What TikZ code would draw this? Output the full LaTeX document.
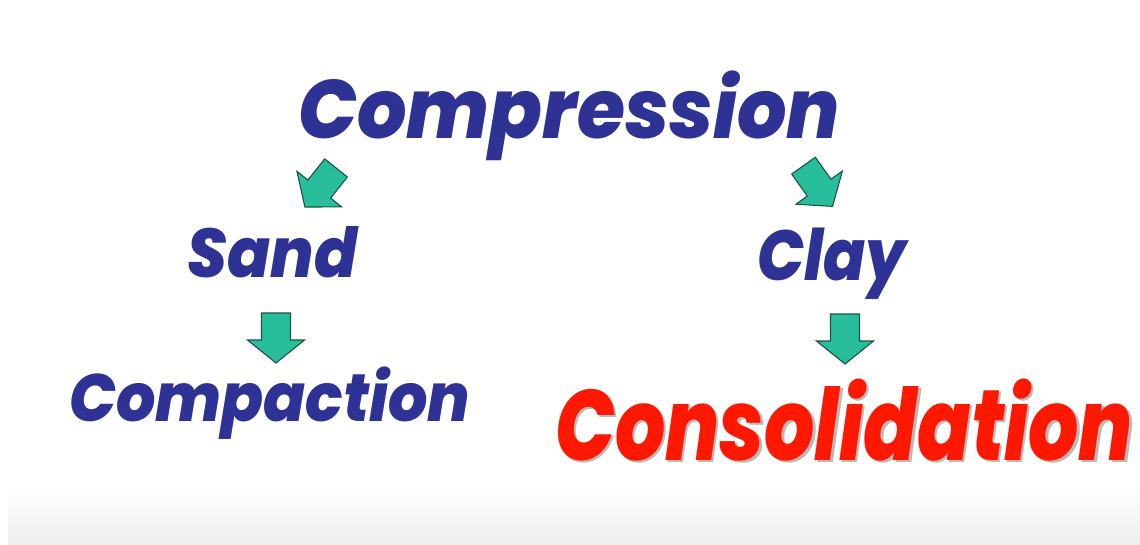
\documentclass[tikz,border=0pt]{standalone}
\usepackage{fontspec}
\setmainfont{Poppins}
\newfontfamily\headfont{Poppins}[BoldItalicFont={Poppins ExtraBold Italic}]
\usetikzlibrary{shadings}
\definecolor{wordblue}{RGB}{46,50,148}
\definecolor{wordred}{RGB}{255,24,0}
\definecolor{shadowgray}{RGB}{185,185,185}
\definecolor{arrowfill}{RGB}{40,190,155}
\definecolor{arrowline}{RGB}{28,84,66}
\definecolor{bandgray}{RGB}{238,238,238}
% squeeze a word horizontally to a given width (in pt)
\newlength\wordwidth
\newcommand\fitword[2]{\settowidth\wordwidth{#2}\pgfmathsetmacro\wordratio{#1/\wordwidth}\scalebox{\wordratio}[1]{#2}}
% the same word with a soft grey copy set just below and to the right
\newcommand\shadowword[2]{\makebox[0pt][l]{\hspace{2.5pt}\raisebox{-2.5pt}{\color{shadowgray}\fitword{#1}{#2}}}\fitword{#1}{#2}}
\tikzset{
  word/.style={inner sep=0pt, anchor=base west},
  wordsize/.style={font=\headfont\bfseries\itshape\fontsize{#1}{#1}\selectfont},
  blockarrow/.style={fill=arrowfill, draw=arrowline, line width=1.1pt, line join=miter},
  pics/fatarrow/.style={code={
    \path[blockarrow] (-14.5,-25) -- (14.5,-25) -- (14.5,2) -- (28.5,2)
      -- (0,25) -- (-28.5,2) -- (-14.5,2) -- cycle;
  }}
}
\begin{document}
\begin{tikzpicture}[x=1pt,y=-1pt]
  \useasboundingbox (0,0) rectangle (1140,544);
  \fill[white] (0,0) rectangle (1140,544);
  % soft grey band along the bottom edge
  \shade[top color=white, bottom color=bandgray] (8,488) rectangle (1140,544);

  % words
  \node[word, text=wordblue, wordsize=83] (comp) at (298,138) {\fitword{542}{Compression}};
  \node[word, text=wordblue, wordsize=69] (sand) at (187,277) {\fitword{170}{Sand}};
  \node[word, text=wordblue, wordsize=71] (clay) at (757,280) {\fitword{149}{Clay}};
  \node[word, text=wordblue, wordsize=67] (compaction) at (69,421) {\fitword{401}{Compaction}};
  \node[word, text=wordred, wordsize=100] (consol) at (555,460) {\shadowword{578}{Consolidation}};

  % block arrows between the words
  \pic[rotate=-38.5] at (320.5,187.5) {fatarrow};
  \pic[rotate=35.5] at (818,186) {fatarrow};
  \pic at (276,338) {fatarrow};
  \pic at (845,339) {fatarrow};
\end{tikzpicture}
\end{document}
